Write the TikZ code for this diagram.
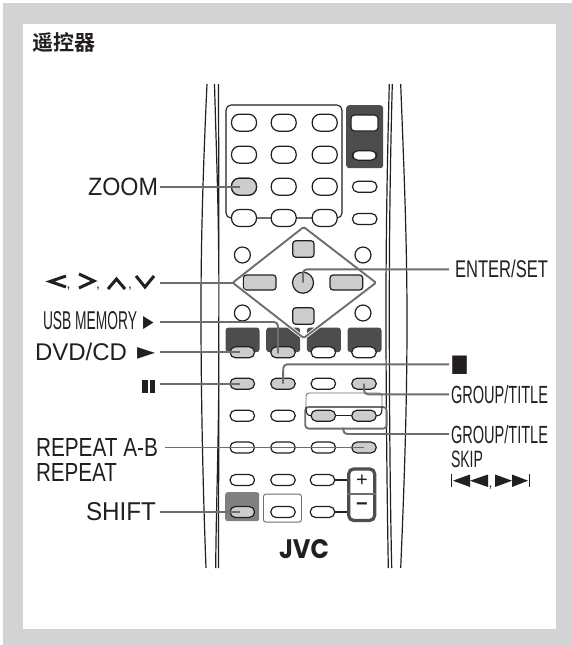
\documentclass[tikz,border=0pt]{standalone}
\usepackage{graphicx}
\usepackage{fontspec}
\setmainfont{Liberation Sans}
\newfontfamily\cjk{Noto Sans CJK SC}[BoldFont=* Bold]
\newfontfamily\dejavu{DejaVu Sans}
\newfontfamily\logofont{Poppins}
\newcommand{\fitlab}[3]{\resizebox{#1pt}{#2pt}{\fontsize{22}{24}\selectfont #3}}
\definecolor{framegray}{HTML}{D1D3D4}
\definecolor{btngray}{HTML}{CCCCCC}
\definecolor{darkbox}{HTML}{4D4D4D}
\definecolor{midbox}{HTML}{808080}
\definecolor{conn}{HTML}{6D6E71}
\definecolor{ink}{HTML}{231F20}
\tikzset{
  x=1pt,y=-1pt,
  lab/.style={anchor=base west,inner sep=0pt,outer sep=0pt,text=ink},
  bigoval/.style={draw=ink,line width=1.2pt,fill=white,rounded corners=8pt,minimum width=25pt,minimum height=17pt,inner sep=0pt},
  smalloval/.style={draw=ink,line width=1.2pt,fill=white,rounded corners=5.4pt,minimum width=24.5pt,minimum height=11pt,inner sep=0pt},
  ringbtn/.style={circle,draw=ink,line width=1.2pt,fill=white,minimum size=16pt,inner sep=0pt},
  padbtn/.style={draw=ink,line width=1.2pt,fill=btngray,rounded corners=3pt,inner sep=0pt},
  connector/.style={draw=conn,line width=1.9pt,rounded corners=4pt},
  thinlink/.style={draw=ink,line width=1.1pt},
  bodyline/.style={draw=ink,line width=1.2pt},
  dark/.style={fill=darkbox,rounded corners=3pt,inner sep=0pt},
}
\begin{document}
\begin{tikzpicture}
\useasboundingbox (0,0) rectangle (572,645);
\fill[framegray] (3,3) rectangle (572,645);
\fill[white] (23,24) rectangle (556,628.5);
% body
\draw[bodyline] (207,84) .. controls (203,170) and (201,240) .. (201,310) .. controls (201,400) and (203,490) .. (206,568);
\draw[bodyline] (214.5,84) .. controls (216,140) and (218,190) .. (218.6,250);
\draw[bodyline] (218.6,400) .. controls (218,460) and (216,520) .. (215.7,568);
\draw[bodyline] (218.4,84) .. controls (219,170) and (219,400) .. (218.4,568);
\draw[bodyline] (389.3,84) .. controls (387,170) and (386,240) .. (386,310) .. controls (386,400) and (387,490) .. (388.3,568);
\draw[bodyline] (392.3,84) .. controls (390,170) and (389.3,240) .. (389.3,310) .. controls (389.3,400) and (390,490) .. (391.7,568);
\draw[bodyline] (400.7,84) .. controls (404,170) and (407,240) .. (407,320) .. controls (407,410) and (404,490) .. (400.7,568);
% number panel
\draw[thinlink,rounded corners=5pt] (226,218) -- (226,105) -- (342,105) -- (342,218) -- cycle;
\node[dark,anchor=north west,minimum width=37pt,minimum height=63pt] (topbox) at (346,105) {};
\node[draw=ink,line width=1.2pt,fill=white,rounded corners=3.5pt,minimum width=27pt,minimum height=16pt,inner sep=0pt] (topa) at (364.5,123) {};
\node[smalloval,minimum width=24pt,minimum height=9.5pt] (topb) at (364.5,155.5) {};
\foreach \r/\y in {1/122.7,2/154.7,3/186.7,4/218}{
  \foreach \c/\x in {1/244,2/283.7,3/324.7}{
    \node[bigoval] (n\r\c) at (\x,\y) {};
  }
}
\node[bigoval,fill=btngray] (zoombtn) at (244,186.7) {};
\node[smalloval] (side1) at (364.7,186.7) {};
\node[smalloval] (side2) at (364.7,219) {};
% navigation
\node[ringbtn] (c1) at (242.4,255) {};
\node[ringbtn] (c2) at (363,255) {};
\node[ringbtn] (c3) at (242.4,313) {};
\node[ringbtn] (c4) at (363,313) {};
\node[padbtn,minimum width=21.3pt,minimum height=16.5pt] (upb) at (303.4,249) {};
\node[padbtn,minimum width=21.3pt,minimum height=16.5pt] (downb) at (303.4,316) {};
\node[padbtn,minimum width=32.7pt,minimum height=15pt] (leftb) at (259.7,282.5) {};
\node[padbtn,minimum width=32.7pt,minimum height=15pt] (rightb) at (346.4,282.5) {};
\node[circle,draw=ink,line width=1.2pt,fill=btngray,minimum size=21pt,inner sep=0pt] (okb) at (303,282.7) {};
% dark squares row
\foreach \n/\x in {1/225.3,2/266,3/306.7,4/347.3}{
  \node[dark,anchor=north west,minimum width=34pt,minimum height=24.7pt] (sq\n) at (\x,327.3) {};
}
\coordinate (dt) at (303.7,227);
\coordinate (dl) at (232.7,282.7);
\coordinate (db) at (303.7,338);
\coordinate (dr) at (376,282.7);
\draw[white,line width=3.6pt,rounded corners=1.5pt] (dl) -- (db) -- (dr);
\draw[conn,line width=1.9pt,rounded corners=1.5pt] (dt) -- (dr) -- (db) -- (dl) -- cycle;
\foreach \n/\x/\f in {1/242.3/btngray,2/283/btngray,3/323.3/white,4/364/white}{
  \node[smalloval,fill=\f] (a\n) at (\x,352.3) {};
}
\foreach \n/\x/\f in {1/242.3/btngray,2/283/btngray,3/323.3/white,4/364/btngray}{
  \node[smalloval,fill=\f] (b\n) at (\x,383.7) {};
}
% group bracket
\draw[draw=conn,line width=0.9pt,rounded corners=3pt] (306,407) -- (306,393) -- (382,393) -- (382,407);
\node[draw=conn,line width=1.8pt,rounded corners=3.5pt,minimum width=81.4pt,minimum height=21.7pt,inner sep=0pt,anchor=north west] (groupbox) at (304.3,406) {};
\foreach \n/\x in {1/242.3,2/283}{
  \node[smalloval] (d\n) at (\x,415.7) {};
}
\draw[thinlink] (306,407) .. controls (306,413) and (307,415.7) .. (311,415.7);
\draw[thinlink] (382,407) .. controls (382,413) and (381,415.7) .. (377,415.7);
\node[smalloval,fill=btngray] (d3) at (323.3,415.7) {};
\node[smalloval,fill=btngray] (d4) at (364,415.7) {};
\draw[thinlink] (d3) -- (d4);
\foreach \n/\x/\f in {1/242.3/white,2/283/white,3/323.3/white,4/364/btngray}{
  \node[smalloval,fill=\f] (e\n) at (\x,447.5) {};
}
\foreach \n/\x in {1/242.3,2/283,3/322.5}{
  \node[smalloval] (f\n) at (\x,480) {};
}
\node[fill=midbox,rounded corners=2.5pt,minimum width=34pt,minimum height=29pt,inner sep=0pt,anchor=north west] (shiftbox) at (225,492) {};
\node[draw=conn,line width=0.9pt,fill=white,rounded corners=2.5pt,minimum width=38pt,minimum height=28pt,inner sep=0pt,anchor=north west] (whitebox) at (263,493.7) {};
\node[smalloval,fill=btngray] (g1) at (242.3,512) {};
\node[smalloval] (g2) at (283,512) {};
\node[smalloval] (g3) at (322.5,512) {};
% volume
\node[draw=darkbox,line width=3.2pt,fill=white,rounded corners=5pt,minimum width=26pt,minimum height=51.5pt,inner sep=0pt] (vol) at (361.7,494.7) {};
\draw[conn,line width=1.9pt] (vol.west |- 0,494) -- (vol.east |- 0,494);
\draw[thinlink] (f3) -- (f3 -| vol.west);
\draw[thinlink] (g3) -- (g3 -| vol.west);
\node[inner sep=0pt,text=ink,font=\fontsize{20}{20}\selectfont] (plus) at (362,481) {+};
\node[inner sep=0pt,text=ink,font=\fontsize{20}{20}\selectfont\bfseries] (minus) at (362,507) {\textminus};
% logo
\node[lab] (jvc) at (279,558) {\resizebox{50pt}{19pt}{\logofont\bfseries JVC}};
% labels
\node[lab] (title) at (32,50) {\cjk\bfseries\fontsize{21}{23}\selectfont 遥控器};
\node[lab] (zoomlab) at (88,195.5) {\fitlab{70}{17.5}{ZOOM}};
\node[lab] (usblab) at (43,329) {\fitlab{94}{18}{USB MEMORY}};
\node[lab] (usbtri) at (143,327.5) {\resizebox{10.5pt}{11pt}{\dejavu ▶}};
\node[lab] (dvdlab) at (35,360) {\fitlab{92}{17.5}{DVD/CD}};
\node[lab] (dvdtri) at (137,359.5) {\resizebox{18pt}{12pt}{\dejavu ►}};
\node[lab] (rablab) at (36,456) {\fitlab{122}{18}{REPEAT A-B}};
\node[lab] (replab) at (36,481) {\fitlab{81}{18}{REPEAT}};
\node[lab] (shiftlab) at (86,520) {\fitlab{70}{18}{SHIFT}};
\node[lab] (enterlab) at (455,277) {\fitlab{93}{17.5}{ENTER/SET}};
\node[lab] (stoplab) at (450.5,371) {\resizebox{18pt}{15.5pt}{\dejavu ■}};
\node[lab] (gt1) at (451,403) {\fitlab{97}{18}{GROUP/TITLE}};
\node[lab] (gt2) at (451,443.5) {\fitlab{97}{18}{GROUP/TITLE}};
\node[lab] (skip) at (451,467.5) {\fitlab{32}{16.5}{SKIP}};
% chevrons
\draw[ink,line width=3pt] (66,276) -- (50,281.5) -- (66,287);
\node[lab,font=\fontsize{14}{14}\selectfont] (ca) at (66.5,288) {,};
\draw[ink,line width=3pt] (79,274) -- (94,281) -- (79,288);
\node[lab,font=\fontsize{14}{14}\selectfont] (cb) at (96,288) {,};
\draw[ink,line width=3pt] (108,289) -- (116.5,279) -- (125,289);
\node[lab,font=\fontsize{14}{14}\selectfont] (cc) at (128,288) {,};
\draw[ink,line width=3pt] (136,276) -- (145,287) -- (154,276);
% pause
\fill[ink] (142,379.5) rectangle (147.5,393);
\fill[ink] (149.5,379.5) rectangle (155,393);
% skip marks
\fill[ink] (451,474) rectangle (452.3,487.3);
\fill[ink] (453,480.7) -- (470,474.5) -- (470,487) -- cycle;
\fill[ink] (470,480.7) -- (488,474.5) -- (488,487) -- cycle;
\node[lab,font=\fontsize{14}{14}\selectfont] (cd) at (488.5,487) {,};
\fill[ink] (495,474.5) -- (512,480.7) -- (495,487) -- cycle;
\fill[ink] (512,474.5) -- (528,480.7) -- (512,487) -- cycle;
\fill[ink] (528.5,474) rectangle (530,487.3);
% connectors
\coordinate (zl) at (160,187);
\draw[connector] (zl) -- ([xshift=-4pt]zoombtn.center |- zl);
\coordinate (al) at (160,282.7);
\draw[connector] (al) -- (dl);
\coordinate (ul) at (160,322);
\draw[connector] (ul) -- (278,322) -- ([yshift=-1pt]a2.center -| 278,0);
\coordinate (vl) at (160,352.3);
\draw[connector] (vl) -- ([xshift=-2pt]a1.center);
\coordinate (pl) at (160,383.7);
\draw[connector] (pl) -- ([xshift=-2pt]b1.center);
\coordinate (entr) at (449,269.3);
\draw[connector] (entr) -- (303,269.3) -- (okb.center);
\coordinate (stopr) at (449,364.3);
\draw[connector] (stopr) -- (283.3,364.3) -- (b2.center);
\coordinate (gr1) at (449,394.3);
\draw[connector] (gr1) -- (364,394.3) -- (b4.center);
\coordinate (gr2) at (449,434);
\draw[connector] (gr2) -- (343.3,434) -- (343.3,427.7);
\coordinate (rl) at (165,447.5);
\draw[connector] (rl) -- (e4.center);
\coordinate (sl) at (160,512);
\draw[connector] (sl) -- ([xshift=-2pt]g1.center);
\end{tikzpicture}
\end{document}
